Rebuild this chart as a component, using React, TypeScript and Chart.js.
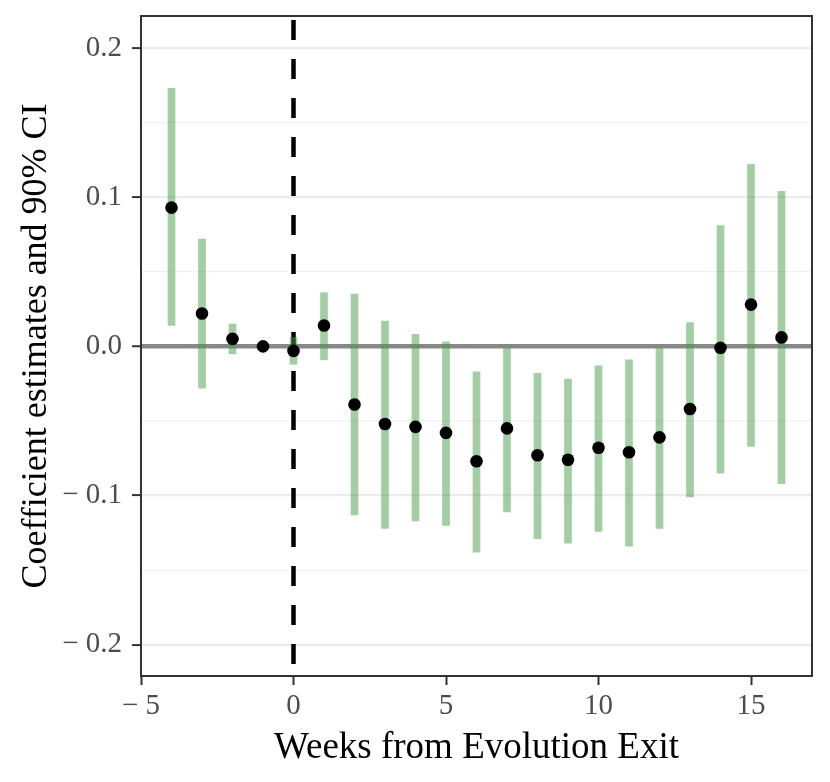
import { useEffect, useRef } from "react";
import { Chart, registerables } from "chart.js";

Chart.register(...registerables);

// event-study estimates, week -1 is the reference week (no interval)
const weeks = [-4, -3, -2, -1, 0, 1, 2, 3, 4, 5, 6, 7, 8, 9, 10, 11, 12, 13, 14, 15, 16];
const estimates = [
  0.093, 0.022, 0.005, 0.0, -0.003, 0.014, -0.039, -0.052, -0.054, -0.058, -0.077,
  -0.055, -0.073, -0.076, -0.068, -0.071, -0.061, -0.042, -0.001, 0.028, 0.006,
];
const ciLow = [
  0.014, -0.028, -0.005, null, -0.012, -0.009, -0.113, -0.122, -0.117, -0.12, -0.138,
  -0.111, -0.129, -0.132, -0.124, -0.134, -0.122, -0.101, -0.085, -0.067, -0.092,
];
const ciHigh = [
  0.173, 0.072, 0.015, null, 0.006, 0.036, 0.035, 0.017, 0.008, 0.003, -0.017,
  0.0, -0.018, -0.022, -0.013, -0.009, 0.0, 0.016, 0.081, 0.122, 0.104,
];
const xTicks = [-5, 0, 5, 10, 15];
const yTicks = [-0.2, -0.15, -0.1, -0.05, 0, 0.05, 0.1, 0.15, 0.2];

const SERIF = "'Liberation Serif', 'DejaVu Serif', serif";

const isMajor = (v: number) => Math.abs(Math.round(v * 10) - v * 10) < 1e-6;

const frame = {
  id: "frame",
  beforeDatasetsDraw(chart: any) {
    const { ctx, chartArea, scales } = chart;
    const x0 = scales.x.getPixelForValue(0);
    ctx.save();
    ctx.beginPath();
    ctx.rect(chartArea.left, chartArea.top, chartArea.width, chartArea.height);
    ctx.clip();
    ctx.strokeStyle = "#000";
    ctx.lineWidth = 4.5;
    ctx.setLineDash([20, 19]);
    ctx.beginPath();
    ctx.moveTo(x0, chartArea.top + 4);
    ctx.lineTo(x0, chartArea.bottom);
    ctx.stroke();
    ctx.restore();
  },
  afterDraw(chart: any) {
    const { ctx, chartArea } = chart;
    ctx.save();
    ctx.strokeStyle = "#333";
    ctx.lineWidth = 2;
    ctx.strokeRect(chartArea.left, chartArea.top, chartArea.width, chartArea.height);
    ctx.restore();
  },
};

export default function App() {
  const ref = useRef<HTMLCanvasElement | null>(null);

  useEffect(() => {
    document.body.style.margin = "0";
    if (!ref.current) return;

    const chart = new Chart(ref.current, {
      type: "bar",
      data: {
        datasets: [
          {
            type: "bar",
            data: weeks
              .map((w, i) => ({ x: w, y: ciLow[i] === null ? null : [ciLow[i], ciHigh[i]] }))
              .filter((d) => d.y !== null) as any,
            backgroundColor: "rgba(72,155,72,0.5)",
            borderWidth: 0,
            barThickness: 7,
            order: 2,
          },
          {
            type: "scatter",
            data: weeks.map((w, i) => ({ x: w, y: estimates[i] })),
            backgroundColor: "#000",
            borderWidth: 0,
            pointRadius: 6.3,
            order: 1,
          } as any,
        ],
      },
      options: {
        animation: false,
        responsive: false,
        devicePixelRatio: 1,
        layout: { padding: { left: 0, top: 16, right: 18, bottom: 0 } },
        plugins: { legend: { display: false }, tooltip: { enabled: false } },
        scales: {
          x: {
            type: "linear",
            min: -5,
            max: 17,
            offset: false,
            afterBuildTicks: (s: any) => {
              s.ticks = xTicks.map((v) => ({ value: v }));
            },
            afterFit: (s: any) => {
              s.height = 106;
              s.paddingLeft = 0;
              s.paddingRight = 0;
            },
            grid: { offset: false, drawOnChartArea: false, tickLength: 9, tickColor: "#333", tickWidth: 2 },
            border: { color: "#333", width: 2 },
            ticks: {
              color: "#4d4d4d",
              padding: 4,
              maxRotation: 0,
              font: { family: SERIF, size: 29 },
              callback: (v: any) => (v < 0 ? "\u2212 " + Math.abs(v) : String(v)),
            },
            title: {
              display: true,
              text: "Weeks from Evolution Exit",
              color: "#000",
              font: { family: SERIF, size: 37 },
              padding: { top: 0, bottom: 12 },
            },
          },
          y: {
            min: -0.221,
            max: 0.2215,
            afterBuildTicks: (s: any) => {
              s.ticks = yTicks.map((v) => ({ value: v }));
            },
            afterFit: (s: any) => {
              s.width = 141;
              s.paddingTop = 0;
              s.paddingBottom = 0;
            },
            grid: {
              color: (c: any) =>
                Math.abs(c.tick.value) < 1e-9 ? "#888" : isMajor(c.tick.value) ? "#ebebeb" : "#f0f0f0",
              lineWidth: (c: any) =>
                Math.abs(c.tick.value) < 1e-9 ? 4.5 : isMajor(c.tick.value) ? 2.2 : 1.2,
              tickColor: (c: any) => (isMajor(c.tick.value) ? "#333" : "rgba(0,0,0,0)"),
              tickLength: 9,
              tickWidth: 2,
            },
            border: { color: "#333", width: 2 },
            ticks: {
              color: "#4d4d4d",
              padding: 10,
              font: { family: SERIF, size: 29 },
              callback: (v: any) => {
                if (!isMajor(v)) return "";
                if (Math.abs(v) < 1e-9) return "0.0";
                return v < 0 ? "\u2212 " + Math.abs(v).toFixed(1) : v.toFixed(1);
              },
            },
            title: {
              display: true,
              text: "Coefficient estimates and 90% CI",
              color: "#000",
              font: { family: SERIF, size: 36 },
              padding: { top: 15, bottom: 0 },
            },
          },
        },
      },
      plugins: [frame],
    });

    return () => chart.destroy();
  }, []);

  return (
    <div style={{ width: 830, height: 782 }}>
      <canvas ref={ref} width={830} height={782} style={{ display: "block" }} />
    </div>
  );
}
